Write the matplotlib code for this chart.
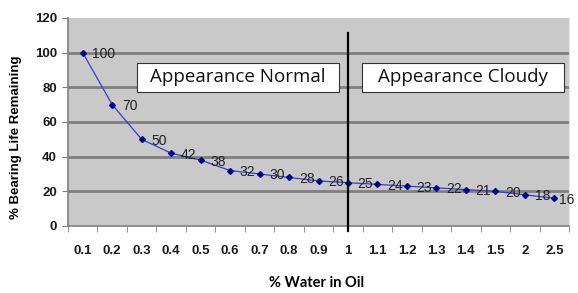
import numpy as np
import matplotlib
matplotlib.use('Agg')
import matplotlib.pyplot as plt
from matplotlib.patches import Rectangle

# %% data

water_pct = ['0.1', '0.2', '0.3', '0.4', '0.5', '0.6', '0.7', '0.8', '0.9',
             '1', '1.1', '1.2', '1.3', '1.4', '1.5', '2', '2.5']
life_remaining = [100, 70, 50, 42, 38, 32, 30, 28, 26, 25, 24, 23, 22, 21, 20, 18, 16]
y_ticks = [0, 20, 40, 60, 80, 100, 120]
divider_cat = '1'
region_labels = ['Appearance Normal', 'Appearance Cloudy']

# %% figure

W, H = 578, 293
fig = plt.figure(figsize=(W/100, H/100), dpi=100)
ax = fig.add_axes([68/W, 1 - 226/H, (569 - 68)/W, (226 - 18)/H])

x = np.arange(len(water_pct))
ax.set_facecolor('#c9c9c9')
ax.set_xlim(-0.5, len(water_pct) - 0.5)
ax.set_ylim(0, 120)

for yv in y_ticks[1:-1]:
    ax.axhline(yv, color='#808080', lw=2, zorder=1)

ax.plot(x, life_remaining, color='#3a3ad0', lw=0.9, marker='D', ms=3,
        mfc='#00008b', mec='#00008b', zorder=3)

# value labels right of each point (last one pulled in so it stays on the canvas)
for i, (xi, v) in enumerate(zip(x, life_remaining)):
    dx = 3.5 if i == len(x) - 1 else 7
    ax.annotate(str(v), (xi, v), xytext=(dx, -1), textcoords='offset points',
                fontsize=10, family='Liberation Sans', color='#222222',
                va='center', ha='left', annotation_clip=False, zorder=4)

# divider between normal and cloudy
xd = water_pct.index(divider_cat)
ax.plot([xd, xd], [-3, 111.3], color='black', lw=1.6, clip_on=False, zorder=5)

# label boxes (pixel positions of the reference)
boxes = [(137, 339), (362, 564)]
for (x0, x1), lab in zip(boxes, region_labels):
    bx0 = (x0 - 68)/501
    bw = (x1 - x0)/501
    by0 = (226 - 92)/208
    bh = (92 - 63)/208
    ax.add_patch(Rectangle((bx0, by0), bw, bh, transform=ax.transAxes,
                           fc='white', ec='#333333', lw=0.8, zorder=6))
    ax.text(bx0 + bw/2, by0 + bh/2, lab, transform=ax.transAxes,
            ha='center', va='center', fontsize=13.5, family='Open Sans',
            color='#111111', zorder=7)

# axes styling
ax.spines['top'].set_visible(False)
ax.spines['right'].set_color('#e6e6e6')
ax.spines['left'].set_color('#808080')
ax.spines['bottom'].set_color('#808080')
ax.spines['left'].set_linewidth(1.2)
ax.spines['bottom'].set_linewidth(1.2)

ax.set_yticks(y_ticks)
ax.set_yticklabels([str(t) for t in y_ticks], fontsize=9.5, fontweight='bold',
                   family='Liberation Sans', color='#1a1a1a')
ax.set_xticks(x)
ax.set_xticklabels(water_pct, fontsize=9.5, fontweight='bold',
                   family='Liberation Sans', color='#1a1a1a')
ax.set_xticks(np.arange(len(water_pct) + 1) - 0.5, minor=True)
ax.tick_params(axis='x', which='major', length=0, pad=14)
ax.tick_params(axis='x', which='minor', length=4, color='#808080', direction='out')
ax.tick_params(axis='y', length=4, color='#808080', pad=4)

fig.text(16/W, 1 - 137/H, '% Bearing Life Remaining', rotation=90, ha='center',
         va='center', fontsize=9.5, fontweight='bold', family='Liberation Sans')
fig.text(317/W, 1 - 283/H, '% Water in Oil', ha='center', va='center',
         fontsize=10.5, fontweight='bold', family='Lato')

fig.savefig('out.png', dpi=100)
